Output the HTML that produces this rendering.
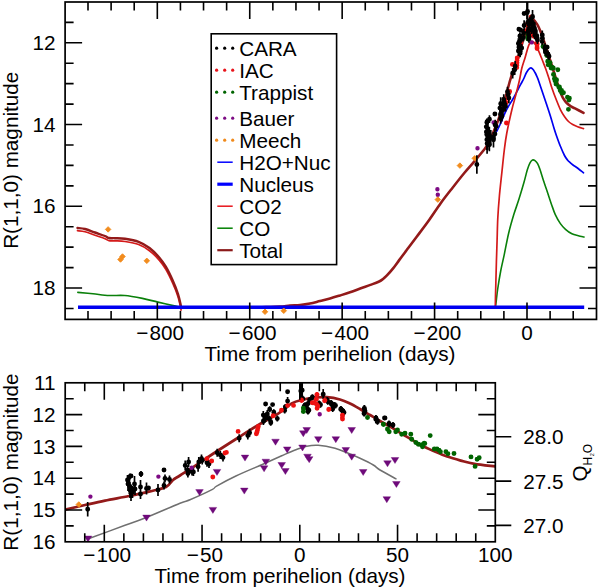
<!DOCTYPE html>
<html><head><meta charset="utf-8"><style>
html,body{margin:0;padding:0;background:#fff;width:600px;height:588px;overflow:hidden}
svg{display:block}
text{font-family:"Liberation Sans",sans-serif;font-size:20.7px;fill:#000}
</style></head><body>
<svg width="600" height="588" viewBox="0 0 600 588">
<defs><clipPath id="c1"><rect x="65.1" y="2" width="531.4" height="317.4"/></clipPath><clipPath id="c2"><rect x="65.2" y="382.8" width="430.1" height="159"/></clipPath></defs>
<g clip-path="url(#c1)"><path d="M77.80 292.40C80.33 292.63 87.77 293.28 93.00 293.80C98.23 294.32 103.92 295.22 109.20 295.50C114.48 295.78 119.17 295.02 124.70 295.50C130.23 295.98 136.87 297.30 142.40 298.40C147.93 299.50 152.38 300.82 157.90 302.10C163.42 303.38 171.65 305.20 175.50 306.10C179.35 307.00 180.08 307.27 181.00 307.50" fill="none" stroke="#0a800a" stroke-width="1.6" stroke-linejoin="round" stroke-linecap="round" /><path d="M495.30 307.50C495.42 306.75 495.60 306.08 496.00 303.00C496.40 299.92 496.92 294.33 497.70 289.00C498.48 283.67 499.60 276.78 500.70 271.00C501.80 265.22 502.97 260.63 504.30 254.30C505.63 247.97 507.12 239.62 508.70 233.00C510.28 226.38 512.10 220.22 513.80 214.60C515.50 208.98 517.20 204.68 518.90 199.30C520.60 193.92 522.58 187.27 524.00 182.30C525.42 177.33 526.40 172.75 527.40 169.50C528.40 166.25 529.15 164.38 530.00 162.80C530.85 161.22 531.67 160.37 532.50 160.00C533.33 159.63 534.15 160.00 535.00 160.60C535.85 161.20 536.77 162.12 537.60 163.60C538.43 165.08 538.97 166.52 540.00 169.50C541.03 172.48 542.52 177.58 543.80 181.50C545.08 185.42 546.42 189.18 547.70 193.00C548.98 196.82 550.23 200.80 551.50 204.40C552.77 208.00 553.82 211.40 555.30 214.60C556.78 217.80 558.70 221.15 560.40 223.60C562.10 226.05 563.58 227.60 565.50 229.30C567.42 231.00 569.77 232.73 571.90 233.80C574.03 234.87 576.28 235.17 578.30 235.70C580.32 236.23 583.05 236.78 584.00 237.00" fill="none" stroke="#0a800a" stroke-width="1.6" stroke-linejoin="round" stroke-linecap="round" /><path d="M488.00 144.00C488.67 142.92 490.53 139.67 492.00 137.50C493.47 135.33 495.30 133.50 496.80 131.00C498.30 128.50 499.45 125.92 501.00 122.50C502.55 119.08 504.07 114.50 506.10 110.50C508.13 106.50 511.10 102.25 513.20 98.50C515.30 94.75 517.23 90.75 518.70 88.00C520.17 85.25 521.07 83.75 522.00 82.00C522.93 80.25 523.55 79.08 524.30 77.50C525.05 75.92 525.57 74.05 526.50 72.50C527.43 70.95 528.90 68.82 529.90 68.20C530.90 67.58 531.65 68.08 532.50 68.80C533.35 69.52 534.23 71.13 535.00 72.50C535.77 73.87 536.52 75.67 537.10 77.00C537.68 78.33 537.72 78.30 538.50 80.50C539.28 82.70 540.53 86.45 541.80 90.20C543.07 93.95 544.68 98.75 546.10 103.00C547.52 107.25 548.97 111.45 550.30 115.70C551.63 119.95 553.10 125.25 554.10 128.50C555.10 131.75 555.25 132.23 556.30 135.20C557.35 138.17 559.03 142.92 560.40 146.30C561.77 149.68 563.32 153.22 564.50 155.50C565.68 157.78 566.60 158.85 567.50 160.00C568.40 161.15 568.98 161.57 569.90 162.40C570.82 163.23 571.87 164.15 573.00 165.00C574.13 165.85 574.95 166.20 576.70 167.50C578.45 168.80 582.37 171.92 583.50 172.80" fill="none" stroke="#0000f0" stroke-width="1.7" stroke-linejoin="round" stroke-linecap="round" /><path d="M77.50 230.70C78.75 230.87 82.08 230.95 85.00 231.70C87.92 232.45 91.67 234.03 95.00 235.20C98.33 236.37 102.67 237.78 105.00 238.70C107.33 239.62 107.33 240.33 109.00 240.70C110.67 241.07 112.33 240.77 115.00 240.90C117.67 241.03 121.07 240.90 125.00 241.50C128.93 242.10 134.52 242.97 138.60 244.50C142.68 246.03 146.10 248.13 149.50 250.70C152.90 253.27 156.28 256.78 159.00 259.90C161.72 263.02 163.53 265.55 165.80 269.40C168.07 273.25 170.57 278.45 172.60 283.00C174.63 287.55 176.63 292.50 178.00 296.70C179.37 300.90 180.30 305.95 180.80 308.20C181.30 310.45 180.97 309.87 181.00 310.20" fill="none" stroke="#d41a1a" stroke-width="1.7" stroke-linejoin="round" stroke-linecap="round" /><path d="M495.30 307.50C495.33 305.58 495.42 299.75 495.50 296.00C495.58 292.25 495.65 290.67 495.80 285.00C495.95 279.33 496.18 269.50 496.40 262.00C496.62 254.50 496.87 247.33 497.10 240.00C497.33 232.67 497.42 225.33 497.80 218.00C498.18 210.67 498.72 203.65 499.40 196.00C500.08 188.35 501.08 179.77 501.90 172.10C502.72 164.43 503.48 156.52 504.30 150.00C505.12 143.48 505.55 139.67 506.80 133.00C508.05 126.33 510.27 116.45 511.80 110.00C513.33 103.55 514.72 99.30 516.00 94.30C517.28 89.30 518.53 84.33 519.50 80.00C520.47 75.67 520.85 72.10 521.80 68.30C522.75 64.50 524.20 60.60 525.20 57.20C526.20 53.80 527.08 50.17 527.80 47.90C528.52 45.63 528.87 44.70 529.50 43.60C530.13 42.50 530.93 41.57 531.60 41.30C532.27 41.03 532.87 41.47 533.50 42.00C534.13 42.53 534.52 42.95 535.40 44.50C536.28 46.05 537.67 48.75 538.80 51.30C539.93 53.85 541.07 56.93 542.20 59.80C543.33 62.67 544.47 65.38 545.60 68.50C546.73 71.62 547.93 75.22 549.00 78.50C550.07 81.78 550.78 84.65 552.00 88.20C553.22 91.75 554.88 96.20 556.30 99.80C557.72 103.40 559.08 106.93 560.50 109.80C561.92 112.67 563.47 115.05 564.80 117.00C566.13 118.95 567.18 120.25 568.50 121.50C569.82 122.75 571.18 123.63 572.70 124.50C574.22 125.37 575.80 126.02 577.60 126.70C579.40 127.38 582.52 128.28 583.50 128.60" fill="none" stroke="#d41a1a" stroke-width="1.7" stroke-linejoin="round" stroke-linecap="round" /><path d="M77.50 228.00C78.75 228.17 82.08 228.25 85.00 229.00C87.92 229.75 91.67 231.33 95.00 232.50C98.33 233.67 102.67 235.08 105.00 236.00C107.33 236.92 107.33 237.63 109.00 238.00C110.67 238.37 112.33 238.07 115.00 238.20C117.67 238.33 121.07 238.20 125.00 238.80C128.93 239.40 134.52 240.27 138.60 241.80C142.68 243.33 146.10 245.43 149.50 248.00C152.90 250.57 156.28 254.08 159.00 257.20C161.72 260.32 163.53 262.85 165.80 266.70C168.07 270.55 170.57 275.75 172.60 280.30C174.63 284.85 176.63 289.80 178.00 294.00C179.37 298.20 180.30 303.25 180.80 305.50C181.30 307.75 180.97 307.17 181.00 307.50" fill="none" stroke="#931a1a" stroke-width="2.4" stroke-linejoin="round" stroke-linecap="round" /><path d="M262.00 307.30C265.00 307.18 275.33 306.90 280.00 306.60C284.67 306.30 286.67 305.77 290.00 305.50C293.33 305.23 296.67 305.33 300.00 305.00C303.33 304.67 306.67 304.17 310.00 303.50C313.33 302.83 316.67 301.83 320.00 301.00C323.33 300.17 326.67 299.42 330.00 298.50C333.33 297.58 336.67 296.53 340.00 295.50C343.33 294.47 346.63 293.47 350.00 292.30C353.37 291.13 356.80 289.73 360.20 288.50C363.60 287.27 367.33 286.02 370.40 284.90C373.47 283.78 376.55 282.73 378.60 281.80C380.65 280.87 381.35 280.32 382.70 279.30C384.05 278.28 385.00 277.48 386.70 275.70C388.40 273.92 390.85 271.15 392.90 268.60C394.95 266.05 396.97 263.13 399.00 260.40C401.03 257.67 403.50 254.35 405.10 252.20C406.70 250.05 406.63 250.12 408.60 247.50C410.57 244.88 413.53 241.00 416.90 236.50C420.27 232.00 424.83 226.05 428.80 220.50C432.77 214.95 436.73 208.67 440.70 203.20C444.67 197.73 448.67 192.73 452.60 187.70C456.53 182.67 460.78 177.25 464.30 173.00C467.82 168.75 470.58 165.87 473.70 162.20C476.82 158.53 480.67 153.95 483.00 151.00C485.33 148.05 486.03 147.50 487.70 144.50C489.37 141.50 491.17 137.30 493.00 133.00C494.83 128.70 496.77 124.13 498.70 118.70C500.63 113.27 502.68 106.85 504.60 100.40C506.52 93.95 508.60 85.40 510.20 80.00C511.80 74.60 512.90 71.67 514.20 68.00C515.50 64.33 516.70 62.00 518.00 58.00C519.30 54.00 520.67 48.50 522.00 44.00C523.33 39.50 524.75 34.67 526.00 31.00C527.25 27.33 528.50 24.08 529.50 22.00C530.50 19.92 531.05 18.58 532.00 18.50C532.95 18.42 534.10 20.08 535.20 21.50C536.30 22.92 537.47 24.67 538.60 27.00C539.73 29.33 540.60 31.58 542.00 35.50C543.40 39.42 545.33 45.42 547.00 50.50C548.67 55.58 550.33 60.75 552.00 66.00C553.67 71.25 555.45 77.25 557.00 82.00C558.55 86.75 560.05 91.45 561.30 94.50C562.55 97.55 563.47 98.75 564.50 100.30C565.53 101.85 566.37 102.75 567.50 103.80C568.63 104.85 570.05 105.83 571.30 106.60C572.55 107.37 572.97 107.35 575.00 108.40C577.03 109.45 582.08 112.15 583.50 112.90" fill="none" stroke="#931a1a" stroke-width="2.6" stroke-linejoin="round" stroke-linecap="round" /><line x1="78" y1="307.3" x2="584.2" y2="307.3" stroke="#0000f0" stroke-width="3.4"/><path d="M524.93 24.04a2.45 2.45 0 1 0 4.9 0a2.45 2.45 0 1 0 -4.9 0M528.64 17.10a2.45 2.45 0 1 0 4.9 0a2.45 2.45 0 1 0 -4.9 0M528.47 23.14a2.45 2.45 0 1 0 4.9 0a2.45 2.45 0 1 0 -4.9 0M528.00 27.51a2.45 2.45 0 1 0 4.9 0a2.45 2.45 0 1 0 -4.9 0M528.47 29.31a2.45 2.45 0 1 0 4.9 0a2.45 2.45 0 1 0 -4.9 0M528.80 31.88a2.45 2.45 0 1 0 4.9 0a2.45 2.45 0 1 0 -4.9 0M528.64 34.57a2.45 2.45 0 1 0 4.9 0a2.45 2.45 0 1 0 -4.9 0M527.50 27.51a2.45 2.45 0 1 0 4.9 0a2.45 2.45 0 1 0 -4.9 0M530.41 24.94a2.45 2.45 0 1 0 4.9 0a2.45 2.45 0 1 0 -4.9 0M531.38 36.25a2.45 2.45 0 1 0 4.9 0a2.45 2.45 0 1 0 -4.9 0M534.64 44.60a2.45 2.45 0 1 0 4.9 0a2.45 2.45 0 1 0 -4.9 0M534.64 48.45a2.45 2.45 0 1 0 4.9 0a2.45 2.45 0 1 0 -4.9 0M503.99 123.00a2.45 2.45 0 1 0 4.9 0a2.45 2.45 0 1 0 -4.9 0M502.62 99.35a2.45 2.45 0 1 0 4.9 0a2.45 2.45 0 1 0 -4.9 0M503.73 102.43a2.45 2.45 0 1 0 4.9 0a2.45 2.45 0 1 0 -4.9 0M506.87 92.15a2.45 2.45 0 1 0 4.9 0a2.45 2.45 0 1 0 -4.9 0M507.20 91.38a2.45 2.45 0 1 0 4.9 0a2.45 2.45 0 1 0 -4.9 0M509.97 64.39a2.45 2.45 0 1 0 4.9 0a2.45 2.45 0 1 0 -4.9 0M514.74 57.97a2.45 2.45 0 1 0 4.9 0a2.45 2.45 0 1 0 -4.9 0M514.62 60.41a2.45 2.45 0 1 0 4.9 0a2.45 2.45 0 1 0 -4.9 0M514.55 62.72a2.45 2.45 0 1 0 4.9 0a2.45 2.45 0 1 0 -4.9 0M514.43 65.16a2.45 2.45 0 1 0 4.9 0a2.45 2.45 0 1 0 -4.9 0M514.29 67.48a2.45 2.45 0 1 0 4.9 0a2.45 2.45 0 1 0 -4.9 0M518.26 44.21a2.45 2.45 0 1 0 4.9 0a2.45 2.45 0 1 0 -4.9 0M520.22 37.15a2.45 2.45 0 1 0 4.9 0a2.45 2.45 0 1 0 -4.9 0M521.67 31.23a2.45 2.45 0 1 0 4.9 0a2.45 2.45 0 1 0 -4.9 0M523.06 30.98a2.45 2.45 0 1 0 4.9 0a2.45 2.45 0 1 0 -4.9 0M524.98 24.68a2.45 2.45 0 1 0 4.9 0a2.45 2.45 0 1 0 -4.9 0M528.57 17.22a2.45 2.45 0 1 0 4.9 0a2.45 2.45 0 1 0 -4.9 0M528.43 23.14a2.45 2.45 0 1 0 4.9 0a2.45 2.45 0 1 0 -4.9 0M527.86 27.63a2.45 2.45 0 1 0 4.9 0a2.45 2.45 0 1 0 -4.9 0M528.69 30.72a2.45 2.45 0 1 0 4.9 0a2.45 2.45 0 1 0 -4.9 0M528.69 33.67a2.45 2.45 0 1 0 4.9 0a2.45 2.45 0 1 0 -4.9 0M530.48 24.68a2.45 2.45 0 1 0 4.9 0a2.45 2.45 0 1 0 -4.9 0M531.45 35.99a2.45 2.45 0 1 0 4.9 0a2.45 2.45 0 1 0 -4.9 0M534.62 43.44a2.45 2.45 0 1 0 4.9 0a2.45 2.45 0 1 0 -4.9 0M534.62 47.17a2.45 2.45 0 1 0 4.9 0a2.45 2.45 0 1 0 -4.9 0" fill="#ee1111"/><path d="M525.42 36.25a2.45 2.45 0 1 0 4.9 0a2.45 2.45 0 1 0 -4.9 0M525.42 38.94a2.45 2.45 0 1 0 4.9 0a2.45 2.45 0 1 0 -4.9 0M544.33 55.52a2.45 2.45 0 1 0 4.9 0a2.45 2.45 0 1 0 -4.9 0M545.28 61.31a2.45 2.45 0 1 0 4.9 0a2.45 2.45 0 1 0 -4.9 0M525.38 34.45a2.45 2.45 0 1 0 4.9 0a2.45 2.45 0 1 0 -4.9 0M525.38 38.94a2.45 2.45 0 1 0 4.9 0a2.45 2.45 0 1 0 -4.9 0M540.55 46.53a2.45 2.45 0 1 0 4.9 0a2.45 2.45 0 1 0 -4.9 0M544.29 55.14a2.45 2.45 0 1 0 4.9 0a2.45 2.45 0 1 0 -4.9 0M545.28 61.56a2.45 2.45 0 1 0 4.9 0a2.45 2.45 0 1 0 -4.9 0M545.68 64.78a2.45 2.45 0 1 0 4.9 0a2.45 2.45 0 1 0 -4.9 0M547.24 64.78a2.45 2.45 0 1 0 4.9 0a2.45 2.45 0 1 0 -4.9 0M547.64 62.59a2.45 2.45 0 1 0 4.9 0a2.45 2.45 0 1 0 -4.9 0M548.64 67.99a2.45 2.45 0 1 0 4.9 0a2.45 2.45 0 1 0 -4.9 0M549.42 66.83a2.45 2.45 0 1 0 4.9 0a2.45 2.45 0 1 0 -4.9 0M550.79 67.99a2.45 2.45 0 1 0 4.9 0a2.45 2.45 0 1 0 -4.9 0M551.00 74.42a2.45 2.45 0 1 0 4.9 0a2.45 2.45 0 1 0 -4.9 0M551.97 78.66a2.45 2.45 0 1 0 4.9 0a2.45 2.45 0 1 0 -4.9 0M552.56 80.84a2.45 2.45 0 1 0 4.9 0a2.45 2.45 0 1 0 -4.9 0M553.36 81.87a2.45 2.45 0 1 0 4.9 0a2.45 2.45 0 1 0 -4.9 0M553.95 79.69a2.45 2.45 0 1 0 4.9 0a2.45 2.45 0 1 0 -4.9 0M553.55 84.06a2.45 2.45 0 1 0 4.9 0a2.45 2.45 0 1 0 -4.9 0M553.29 81.74a2.45 2.45 0 1 0 4.9 0a2.45 2.45 0 1 0 -4.9 0M554.10 79.94a2.45 2.45 0 1 0 4.9 0a2.45 2.45 0 1 0 -4.9 0M555.37 69.79a2.45 2.45 0 1 0 4.9 0a2.45 2.45 0 1 0 -4.9 0M556.34 87.01a2.45 2.45 0 1 0 4.9 0a2.45 2.45 0 1 0 -4.9 0M556.98 87.01a2.45 2.45 0 1 0 4.9 0a2.45 2.45 0 1 0 -4.9 0M557.45 88.68a2.45 2.45 0 1 0 4.9 0a2.45 2.45 0 1 0 -4.9 0M557.78 90.48a2.45 2.45 0 1 0 4.9 0a2.45 2.45 0 1 0 -4.9 0M559.08 90.48a2.45 2.45 0 1 0 4.9 0a2.45 2.45 0 1 0 -4.9 0M559.56 93.05a2.45 2.45 0 1 0 4.9 0a2.45 2.45 0 1 0 -4.9 0M561.00 92.80a2.45 2.45 0 1 0 4.9 0a2.45 2.45 0 1 0 -4.9 0M565.02 97.16a2.45 2.45 0 1 0 4.9 0a2.45 2.45 0 1 0 -4.9 0M566.46 100.12a2.45 2.45 0 1 0 4.9 0a2.45 2.45 0 1 0 -4.9 0M566.95 98.32a2.45 2.45 0 1 0 4.9 0a2.45 2.45 0 1 0 -4.9 0M565.99 109.37a2.45 2.45 0 1 0 4.9 0a2.45 2.45 0 1 0 -4.9 0" fill="#006400"/><path d="M475.30 148.19a2.2 2.2 0 1 0 4.4 0a2.2 2.2 0 1 0 -4.4 0M491.38 122.48a2.2 2.2 0 1 0 4.4 0a2.2 2.2 0 1 0 -4.4 0M529.50 42.41a2.2 2.2 0 1 0 4.4 0a2.2 2.2 0 1 0 -4.4 0M499.25 111.17a2.2 2.2 0 1 0 4.4 0a2.2 2.2 0 1 0 -4.4 0M435.20 189.20a2.2 2.2 0 1 0 4.4 0a2.2 2.2 0 1 0 -4.4 0M435.60 194.80a2.2 2.2 0 1 0 4.4 0a2.2 2.2 0 1 0 -4.4 0" fill="#7d0a84"/><path d="M474.76 155.59L477.51 158.34L474.76 161.09L472.01 158.34ZM108.10 226.65L110.85 229.40L108.10 232.15L105.35 229.40ZM120.50 256.75L123.25 259.50L120.50 262.25L117.75 259.50ZM122.50 253.75L125.25 256.50L122.50 259.25L119.75 256.50ZM146.80 258.05L149.55 260.80L146.80 263.55L144.05 260.80ZM265.00 309.00L267.75 311.75L265.00 314.50L262.25 311.75ZM283.75 308.00L286.50 310.75L283.75 313.50L281.00 310.75ZM437.80 196.85L440.55 199.60L437.80 202.35L435.05 199.60ZM459.90 162.85L462.65 165.60L459.90 168.35L457.15 165.60Z" fill="#f28c1e" stroke="#f28c1e" stroke-width="0.9" stroke-linejoin="round"/><path d="M527.24 0.90V24.04M529.95 16.71V24.42M529.32 20.18V27.89M528.99 24.55V32.26M528.51 27.12V34.83M528.04 28.02V35.73M528.91 35.09V42.80M529.15 33.29V41.00M531.56 24.55V32.26M531.89 26.35V34.06M532.53 12.60V21.59M533.50 20.18V27.89M534.47 24.55V32.26M534.94 28.02V35.73M534.78 31.62V39.33M534.37 24.04V31.75M535.08 26.61V34.32M535.44 27.25V34.96M536.74 31.75V39.46M537.21 34.32V42.03M537.45 36.25V43.96M542.29 30.46V39.46M542.41 34.32V42.03M542.17 37.53V45.24M545.01 43.31V51.03M545.37 47.17V54.88M548.08 50.38V58.09M476.87 155.26V173.76M486.27 120.43V133.28M486.86 118.50V126.21M486.39 123.00V140.99M486.75 124.28V144.85M486.86 129.42V149.99M487.10 133.28V153.84M487.46 134.56V149.99M487.93 121.71V142.28M488.05 130.71V146.13M489.46 115.29V123.00M489.35 126.85V144.85M489.35 138.42V151.27M490.76 130.07V145.49M493.48 131.99V147.42M495.14 119.78V130.07M496.20 121.07V131.35M494.90 128.78V139.06M499.91 101.66V114.52M500.72 97.29V110.15M500.48 107.83V120.68M500.55 113.49V123.77M501.52 110.79V121.07M501.85 111.30V121.58M503.13 97.29V110.15M502.96 103.46V116.31M503.76 94.21V104.49M503.93 96.78V107.06M505.07 99.48V109.76M505.54 101.15V111.43M507.48 86.63V96.91M508.21 89.45V99.74M508.85 92.92V103.21M512.68 68.12V78.40M514.71 64.65V74.93M515.13 61.05V71.33M518.40 45.76V56.04M520.12 46.91V57.19M519.89 32.13V39.84M518.37 38.30V48.58M519.32 36.76V47.04M518.92 42.03V52.31M518.49 47.04V54.75M519.74 44.09V51.80M520.15 49.35V57.07M520.85 35.86V43.57M521.68 44.09V51.80M524.12 20.31V30.59M523.57 29.05V36.76M523.43 33.55V41.26M527.57 1.16V21.72M527.71 18.64V26.35M528.25 26.86V34.57M528.94 35.09V42.80M528.65 30.59V38.30M530.05 17.10V24.81M531.70 26.09V33.80M532.53 10.03V22.88M533.62 22.37V30.08M534.45 25.32V33.03M535.27 26.86V34.57M536.67 32.13V39.84M537.21 35.09V42.80M542.22 30.46V39.46M542.34 34.32V42.03M542.22 37.53V45.24M544.96 43.57V53.85M545.37 48.07V55.78M548.13 51.28V58.99M549.03 52.31V60.02" stroke="#000" stroke-width="1.7" fill="none"/><path d="M524.79 12.47a2.45 2.45 0 1 0 4.9 0a2.45 2.45 0 1 0 -4.9 0M527.50 20.57a2.45 2.45 0 1 0 4.9 0a2.45 2.45 0 1 0 -4.9 0M526.87 24.04a2.45 2.45 0 1 0 4.9 0a2.45 2.45 0 1 0 -4.9 0M526.54 28.41a2.45 2.45 0 1 0 4.9 0a2.45 2.45 0 1 0 -4.9 0M526.06 30.98a2.45 2.45 0 1 0 4.9 0a2.45 2.45 0 1 0 -4.9 0M525.59 31.88a2.45 2.45 0 1 0 4.9 0a2.45 2.45 0 1 0 -4.9 0M526.46 38.94a2.45 2.45 0 1 0 4.9 0a2.45 2.45 0 1 0 -4.9 0M526.70 37.15a2.45 2.45 0 1 0 4.9 0a2.45 2.45 0 1 0 -4.9 0M529.11 28.41a2.45 2.45 0 1 0 4.9 0a2.45 2.45 0 1 0 -4.9 0M529.44 30.20a2.45 2.45 0 1 0 4.9 0a2.45 2.45 0 1 0 -4.9 0M530.08 17.10a2.45 2.45 0 1 0 4.9 0a2.45 2.45 0 1 0 -4.9 0M531.05 24.04a2.45 2.45 0 1 0 4.9 0a2.45 2.45 0 1 0 -4.9 0M532.02 28.41a2.45 2.45 0 1 0 4.9 0a2.45 2.45 0 1 0 -4.9 0M532.49 31.88a2.45 2.45 0 1 0 4.9 0a2.45 2.45 0 1 0 -4.9 0M532.33 35.47a2.45 2.45 0 1 0 4.9 0a2.45 2.45 0 1 0 -4.9 0M531.92 27.89a2.45 2.45 0 1 0 4.9 0a2.45 2.45 0 1 0 -4.9 0M532.63 30.46a2.45 2.45 0 1 0 4.9 0a2.45 2.45 0 1 0 -4.9 0M532.99 31.10a2.45 2.45 0 1 0 4.9 0a2.45 2.45 0 1 0 -4.9 0M534.29 35.60a2.45 2.45 0 1 0 4.9 0a2.45 2.45 0 1 0 -4.9 0M534.76 38.17a2.45 2.45 0 1 0 4.9 0a2.45 2.45 0 1 0 -4.9 0M535.00 40.10a2.45 2.45 0 1 0 4.9 0a2.45 2.45 0 1 0 -4.9 0M539.84 34.96a2.45 2.45 0 1 0 4.9 0a2.45 2.45 0 1 0 -4.9 0M539.96 38.17a2.45 2.45 0 1 0 4.9 0a2.45 2.45 0 1 0 -4.9 0M539.72 41.39a2.45 2.45 0 1 0 4.9 0a2.45 2.45 0 1 0 -4.9 0M542.56 47.17a2.45 2.45 0 1 0 4.9 0a2.45 2.45 0 1 0 -4.9 0M542.92 51.03a2.45 2.45 0 1 0 4.9 0a2.45 2.45 0 1 0 -4.9 0M544.57 47.17a2.45 2.45 0 1 0 4.9 0a2.45 2.45 0 1 0 -4.9 0M545.63 54.24a2.45 2.45 0 1 0 4.9 0a2.45 2.45 0 1 0 -4.9 0M474.42 164.51a2.45 2.45 0 1 0 4.9 0a2.45 2.45 0 1 0 -4.9 0M483.82 126.85a2.45 2.45 0 1 0 4.9 0a2.45 2.45 0 1 0 -4.9 0M484.41 122.36a2.45 2.45 0 1 0 4.9 0a2.45 2.45 0 1 0 -4.9 0M484.65 121.71a2.45 2.45 0 1 0 4.9 0a2.45 2.45 0 1 0 -4.9 0M483.94 131.99a2.45 2.45 0 1 0 4.9 0a2.45 2.45 0 1 0 -4.9 0M484.30 134.56a2.45 2.45 0 1 0 4.9 0a2.45 2.45 0 1 0 -4.9 0M484.41 139.71a2.45 2.45 0 1 0 4.9 0a2.45 2.45 0 1 0 -4.9 0M484.65 143.56a2.45 2.45 0 1 0 4.9 0a2.45 2.45 0 1 0 -4.9 0M485.01 142.28a2.45 2.45 0 1 0 4.9 0a2.45 2.45 0 1 0 -4.9 0M485.48 131.99a2.45 2.45 0 1 0 4.9 0a2.45 2.45 0 1 0 -4.9 0M485.60 138.42a2.45 2.45 0 1 0 4.9 0a2.45 2.45 0 1 0 -4.9 0M487.01 119.14a2.45 2.45 0 1 0 4.9 0a2.45 2.45 0 1 0 -4.9 0M486.90 135.85a2.45 2.45 0 1 0 4.9 0a2.45 2.45 0 1 0 -4.9 0M486.90 144.85a2.45 2.45 0 1 0 4.9 0a2.45 2.45 0 1 0 -4.9 0M488.31 137.78a2.45 2.45 0 1 0 4.9 0a2.45 2.45 0 1 0 -4.9 0M488.79 137.14a2.45 2.45 0 1 0 4.9 0a2.45 2.45 0 1 0 -4.9 0M491.03 139.71a2.45 2.45 0 1 0 4.9 0a2.45 2.45 0 1 0 -4.9 0M492.45 114.00a2.45 2.45 0 1 0 4.9 0a2.45 2.45 0 1 0 -4.9 0M492.69 124.93a2.45 2.45 0 1 0 4.9 0a2.45 2.45 0 1 0 -4.9 0M493.75 126.21a2.45 2.45 0 1 0 4.9 0a2.45 2.45 0 1 0 -4.9 0M492.45 133.92a2.45 2.45 0 1 0 4.9 0a2.45 2.45 0 1 0 -4.9 0M497.46 108.09a2.45 2.45 0 1 0 4.9 0a2.45 2.45 0 1 0 -4.9 0M498.27 103.72a2.45 2.45 0 1 0 4.9 0a2.45 2.45 0 1 0 -4.9 0M498.03 114.26a2.45 2.45 0 1 0 4.9 0a2.45 2.45 0 1 0 -4.9 0M498.10 118.63a2.45 2.45 0 1 0 4.9 0a2.45 2.45 0 1 0 -4.9 0M499.07 115.93a2.45 2.45 0 1 0 4.9 0a2.45 2.45 0 1 0 -4.9 0M499.40 116.44a2.45 2.45 0 1 0 4.9 0a2.45 2.45 0 1 0 -4.9 0M500.68 103.72a2.45 2.45 0 1 0 4.9 0a2.45 2.45 0 1 0 -4.9 0M500.51 109.89a2.45 2.45 0 1 0 4.9 0a2.45 2.45 0 1 0 -4.9 0M501.31 99.35a2.45 2.45 0 1 0 4.9 0a2.45 2.45 0 1 0 -4.9 0M501.48 101.92a2.45 2.45 0 1 0 4.9 0a2.45 2.45 0 1 0 -4.9 0M502.62 104.62a2.45 2.45 0 1 0 4.9 0a2.45 2.45 0 1 0 -4.9 0M503.09 106.29a2.45 2.45 0 1 0 4.9 0a2.45 2.45 0 1 0 -4.9 0M505.03 91.77a2.45 2.45 0 1 0 4.9 0a2.45 2.45 0 1 0 -4.9 0M505.76 94.59a2.45 2.45 0 1 0 4.9 0a2.45 2.45 0 1 0 -4.9 0M506.40 98.06a2.45 2.45 0 1 0 4.9 0a2.45 2.45 0 1 0 -4.9 0M510.23 73.26a2.45 2.45 0 1 0 4.9 0a2.45 2.45 0 1 0 -4.9 0M512.26 69.79a2.45 2.45 0 1 0 4.9 0a2.45 2.45 0 1 0 -4.9 0M512.68 66.19a2.45 2.45 0 1 0 4.9 0a2.45 2.45 0 1 0 -4.9 0M515.95 50.90a2.45 2.45 0 1 0 4.9 0a2.45 2.45 0 1 0 -4.9 0M517.67 52.05a2.45 2.45 0 1 0 4.9 0a2.45 2.45 0 1 0 -4.9 0M516.47 29.18a2.45 2.45 0 1 0 4.9 0a2.45 2.45 0 1 0 -4.9 0M518.12 29.95a2.45 2.45 0 1 0 4.9 0a2.45 2.45 0 1 0 -4.9 0M517.44 35.99a2.45 2.45 0 1 0 4.9 0a2.45 2.45 0 1 0 -4.9 0M515.92 43.44a2.45 2.45 0 1 0 4.9 0a2.45 2.45 0 1 0 -4.9 0M516.87 41.90a2.45 2.45 0 1 0 4.9 0a2.45 2.45 0 1 0 -4.9 0M516.47 47.17a2.45 2.45 0 1 0 4.9 0a2.45 2.45 0 1 0 -4.9 0M516.04 50.90a2.45 2.45 0 1 0 4.9 0a2.45 2.45 0 1 0 -4.9 0M517.29 47.94a2.45 2.45 0 1 0 4.9 0a2.45 2.45 0 1 0 -4.9 0M517.70 53.21a2.45 2.45 0 1 0 4.9 0a2.45 2.45 0 1 0 -4.9 0M518.40 39.72a2.45 2.45 0 1 0 4.9 0a2.45 2.45 0 1 0 -4.9 0M519.23 47.94a2.45 2.45 0 1 0 4.9 0a2.45 2.45 0 1 0 -4.9 0M521.67 13.50a2.45 2.45 0 1 0 4.9 0a2.45 2.45 0 1 0 -4.9 0M521.67 25.45a2.45 2.45 0 1 0 4.9 0a2.45 2.45 0 1 0 -4.9 0M521.12 32.90a2.45 2.45 0 1 0 4.9 0a2.45 2.45 0 1 0 -4.9 0M520.98 37.40a2.45 2.45 0 1 0 4.9 0a2.45 2.45 0 1 0 -4.9 0M525.12 11.44a2.45 2.45 0 1 0 4.9 0a2.45 2.45 0 1 0 -4.9 0M525.26 22.49a2.45 2.45 0 1 0 4.9 0a2.45 2.45 0 1 0 -4.9 0M525.80 30.72a2.45 2.45 0 1 0 4.9 0a2.45 2.45 0 1 0 -4.9 0M526.49 38.94a2.45 2.45 0 1 0 4.9 0a2.45 2.45 0 1 0 -4.9 0M526.20 34.45a2.45 2.45 0 1 0 4.9 0a2.45 2.45 0 1 0 -4.9 0M527.60 20.95a2.45 2.45 0 1 0 4.9 0a2.45 2.45 0 1 0 -4.9 0M529.25 29.95a2.45 2.45 0 1 0 4.9 0a2.45 2.45 0 1 0 -4.9 0M530.08 16.45a2.45 2.45 0 1 0 4.9 0a2.45 2.45 0 1 0 -4.9 0M531.17 26.22a2.45 2.45 0 1 0 4.9 0a2.45 2.45 0 1 0 -4.9 0M532.00 29.18a2.45 2.45 0 1 0 4.9 0a2.45 2.45 0 1 0 -4.9 0M532.82 30.72a2.45 2.45 0 1 0 4.9 0a2.45 2.45 0 1 0 -4.9 0M534.22 35.99a2.45 2.45 0 1 0 4.9 0a2.45 2.45 0 1 0 -4.9 0M534.76 38.94a2.45 2.45 0 1 0 4.9 0a2.45 2.45 0 1 0 -4.9 0M539.77 34.96a2.45 2.45 0 1 0 4.9 0a2.45 2.45 0 1 0 -4.9 0M539.89 38.17a2.45 2.45 0 1 0 4.9 0a2.45 2.45 0 1 0 -4.9 0M539.77 41.39a2.45 2.45 0 1 0 4.9 0a2.45 2.45 0 1 0 -4.9 0M542.51 48.71a2.45 2.45 0 1 0 4.9 0a2.45 2.45 0 1 0 -4.9 0M542.92 51.93a2.45 2.45 0 1 0 4.9 0a2.45 2.45 0 1 0 -4.9 0M544.69 47.17a2.45 2.45 0 1 0 4.9 0a2.45 2.45 0 1 0 -4.9 0M545.68 55.14a2.45 2.45 0 1 0 4.9 0a2.45 2.45 0 1 0 -4.9 0M546.58 56.17a2.45 2.45 0 1 0 4.9 0a2.45 2.45 0 1 0 -4.9 0" fill="#000"/></g>
<g clip-path="url(#c2)"><path d="M90.40 538.00C96.17 535.88 115.90 528.63 125.00 525.30C134.10 521.97 135.83 521.68 145.00 518.00C154.17 514.32 172.50 506.23 180.00 503.20C187.50 500.17 184.67 502.05 190.00 499.80C195.33 497.55 207.57 491.98 212.00 489.70C216.43 487.42 212.62 488.38 216.60 486.10C220.58 483.82 228.10 479.68 235.90 476.00C243.70 472.32 255.77 467.37 263.40 464.00C271.03 460.63 276.72 458.00 281.70 455.80C286.68 453.60 289.13 452.38 293.30 450.80C297.47 449.22 302.53 447.22 306.70 446.30C310.87 445.38 313.58 444.97 318.30 445.30C323.02 445.63 330.00 446.97 335.00 448.30C340.00 449.63 344.13 451.63 348.30 453.30C352.47 454.97 355.83 456.35 360.00 458.30C364.17 460.25 369.97 463.05 373.30 465.00C376.63 466.95 376.22 467.70 380.00 470.00C383.78 472.30 393.33 477.33 396.00 478.80" fill="none" stroke="#707070" stroke-width="1.5" stroke-linejoin="round" stroke-linecap="round" /><path d="M65.00 509.60C68.33 508.83 78.33 506.50 85.00 505.00C91.67 503.50 97.67 502.10 105.00 500.60C112.33 499.10 121.67 497.50 129.00 496.00C136.33 494.50 142.83 493.10 149.00 491.60C155.17 490.10 162.00 488.93 166.00 487.00C170.00 485.07 170.67 481.92 173.00 480.00C175.33 478.08 176.27 477.90 180.00 475.50C183.73 473.10 189.57 469.43 195.40 465.60C201.23 461.77 207.57 457.35 215.00 452.50C222.43 447.65 232.50 441.25 240.00 436.50C247.50 431.75 253.33 428.03 260.00 424.00C266.67 419.97 274.72 415.73 280.00 412.30C285.28 408.87 287.82 405.52 291.70 403.40C295.58 401.28 299.42 400.58 303.30 399.60C307.18 398.62 311.10 397.90 315.00 397.50C318.90 397.10 322.53 396.87 326.70 397.20C330.87 397.53 336.12 398.45 340.00 399.50C343.88 400.55 346.67 401.92 350.00 403.50C353.33 405.08 356.67 407.08 360.00 409.00C363.33 410.92 366.67 413.00 370.00 415.00C373.33 417.00 376.67 419.08 380.00 421.00C383.33 422.92 385.55 423.88 390.00 426.50C394.45 429.12 401.15 433.40 406.70 436.70C412.25 440.00 418.82 443.92 423.30 446.30C427.78 448.68 429.62 449.28 433.60 451.00C437.58 452.72 442.67 455.00 447.20 456.60C451.73 458.20 456.27 459.40 460.80 460.60C465.33 461.80 468.73 462.85 474.40 463.80C480.07 464.75 491.40 465.88 494.80 466.30" fill="none" stroke="#931a1a" stroke-width="2.7" stroke-linejoin="round" stroke-linecap="round" /><path d="M300.80 382.00V400.00M312.30 394.30V400.30M309.60 397.00V403.00M308.20 400.40V406.40M306.20 402.40V408.40M304.20 403.10V409.10M307.90 408.60V414.60M308.90 407.20V413.20M319.10 400.40V406.40M320.50 401.80V407.80M323.20 391.10V398.10M327.30 397.00V403.00M331.40 400.40V406.40M333.40 403.10V409.10M332.70 405.90V411.90M331.00 400.00V406.00M334.00 402.00V408.00M335.50 402.50V408.50M341.00 406.00V412.00M343.00 408.00V414.00M344.00 409.50V415.50M364.50 405.00V412.00M365.00 408.00V414.00M364.00 410.50V416.50M376.00 415.00V421.00M377.50 418.00V424.00M389.00 420.50V426.50M87.70 502.10V516.50M127.50 475.00V485.00M130.00 473.50V479.50M128.00 477.00V491.00M129.50 478.00V494.00M130.00 482.00V498.00M131.00 485.00V501.00M132.50 486.00V498.00M134.50 476.00V492.00M135.00 483.00V495.00M141.00 471.00V477.00M140.50 480.00V494.00M140.50 489.00V499.00M146.50 482.50V494.50M158.00 484.00V496.00M165.00 474.50V482.50M169.50 475.50V483.50M164.00 481.50V489.50M185.20 460.40V470.40M188.60 457.00V467.00M187.60 465.20V475.20M187.90 469.60V477.60M192.00 467.50V475.50M193.40 467.90V475.90M198.80 457.00V467.00M198.10 461.80V471.80M201.50 454.60V462.60M202.20 456.60V464.60M207.00 458.70V466.70M209.00 460.00V468.00M217.20 448.70V456.70M220.30 450.90V458.90M223.00 453.60V461.60M239.20 434.30V442.30M247.80 431.60V439.60M249.60 428.80V436.80M263.40 416.90V424.90M270.70 417.80V425.80M269.70 406.30V412.30M263.30 411.10V419.10M267.30 409.90V417.90M265.60 414.00V422.00M263.80 417.90V423.90M269.10 415.60V421.60M270.80 419.70V425.70M273.80 409.20V415.20M277.30 415.60V421.60M287.60 397.10V405.10M285.30 403.90V409.90M284.70 407.40V413.40M302.20 382.20V398.20M302.80 395.80V401.80M305.10 402.20V408.20M308.00 408.60V414.60M306.80 405.10V411.10M312.70 394.60V400.60M319.70 401.60V407.60M323.20 389.10V399.10M327.80 398.70V404.70M331.30 401.00V407.00M334.80 402.20V408.20M340.70 406.30V412.30M343.00 408.60V414.60M364.20 405.00V412.00M364.70 408.00V414.00M364.20 410.50V416.50M375.80 415.20V423.20M377.50 418.70V424.70M389.20 421.20V427.20M393.00 422.00V428.00" stroke="#000" stroke-width="1.7" fill="none"/><path d="M298.35 391.00a2.45 2.45 0 1 0 4.9 0a2.45 2.45 0 1 0 -4.9 0M309.85 397.30a2.45 2.45 0 1 0 4.9 0a2.45 2.45 0 1 0 -4.9 0M307.15 400.00a2.45 2.45 0 1 0 4.9 0a2.45 2.45 0 1 0 -4.9 0M305.75 403.40a2.45 2.45 0 1 0 4.9 0a2.45 2.45 0 1 0 -4.9 0M303.75 405.40a2.45 2.45 0 1 0 4.9 0a2.45 2.45 0 1 0 -4.9 0M301.75 406.10a2.45 2.45 0 1 0 4.9 0a2.45 2.45 0 1 0 -4.9 0M305.45 411.60a2.45 2.45 0 1 0 4.9 0a2.45 2.45 0 1 0 -4.9 0M306.45 410.20a2.45 2.45 0 1 0 4.9 0a2.45 2.45 0 1 0 -4.9 0M316.65 403.40a2.45 2.45 0 1 0 4.9 0a2.45 2.45 0 1 0 -4.9 0M318.05 404.80a2.45 2.45 0 1 0 4.9 0a2.45 2.45 0 1 0 -4.9 0M320.75 394.60a2.45 2.45 0 1 0 4.9 0a2.45 2.45 0 1 0 -4.9 0M324.85 400.00a2.45 2.45 0 1 0 4.9 0a2.45 2.45 0 1 0 -4.9 0M328.95 403.40a2.45 2.45 0 1 0 4.9 0a2.45 2.45 0 1 0 -4.9 0M330.95 406.10a2.45 2.45 0 1 0 4.9 0a2.45 2.45 0 1 0 -4.9 0M330.25 408.90a2.45 2.45 0 1 0 4.9 0a2.45 2.45 0 1 0 -4.9 0M328.55 403.00a2.45 2.45 0 1 0 4.9 0a2.45 2.45 0 1 0 -4.9 0M331.55 405.00a2.45 2.45 0 1 0 4.9 0a2.45 2.45 0 1 0 -4.9 0M333.05 405.50a2.45 2.45 0 1 0 4.9 0a2.45 2.45 0 1 0 -4.9 0M338.55 409.00a2.45 2.45 0 1 0 4.9 0a2.45 2.45 0 1 0 -4.9 0M340.55 411.00a2.45 2.45 0 1 0 4.9 0a2.45 2.45 0 1 0 -4.9 0M341.55 412.50a2.45 2.45 0 1 0 4.9 0a2.45 2.45 0 1 0 -4.9 0M362.05 408.50a2.45 2.45 0 1 0 4.9 0a2.45 2.45 0 1 0 -4.9 0M362.55 411.00a2.45 2.45 0 1 0 4.9 0a2.45 2.45 0 1 0 -4.9 0M361.55 413.50a2.45 2.45 0 1 0 4.9 0a2.45 2.45 0 1 0 -4.9 0M373.55 418.00a2.45 2.45 0 1 0 4.9 0a2.45 2.45 0 1 0 -4.9 0M375.05 421.00a2.45 2.45 0 1 0 4.9 0a2.45 2.45 0 1 0 -4.9 0M382.05 418.00a2.45 2.45 0 1 0 4.9 0a2.45 2.45 0 1 0 -4.9 0M386.55 423.50a2.45 2.45 0 1 0 4.9 0a2.45 2.45 0 1 0 -4.9 0M85.25 509.30a2.45 2.45 0 1 0 4.9 0a2.45 2.45 0 1 0 -4.9 0M125.05 480.00a2.45 2.45 0 1 0 4.9 0a2.45 2.45 0 1 0 -4.9 0M127.55 476.50a2.45 2.45 0 1 0 4.9 0a2.45 2.45 0 1 0 -4.9 0M128.55 476.00a2.45 2.45 0 1 0 4.9 0a2.45 2.45 0 1 0 -4.9 0M125.55 484.00a2.45 2.45 0 1 0 4.9 0a2.45 2.45 0 1 0 -4.9 0M127.05 486.00a2.45 2.45 0 1 0 4.9 0a2.45 2.45 0 1 0 -4.9 0M127.55 490.00a2.45 2.45 0 1 0 4.9 0a2.45 2.45 0 1 0 -4.9 0M128.55 493.00a2.45 2.45 0 1 0 4.9 0a2.45 2.45 0 1 0 -4.9 0M130.05 492.00a2.45 2.45 0 1 0 4.9 0a2.45 2.45 0 1 0 -4.9 0M132.05 484.00a2.45 2.45 0 1 0 4.9 0a2.45 2.45 0 1 0 -4.9 0M132.55 489.00a2.45 2.45 0 1 0 4.9 0a2.45 2.45 0 1 0 -4.9 0M138.55 474.00a2.45 2.45 0 1 0 4.9 0a2.45 2.45 0 1 0 -4.9 0M138.05 487.00a2.45 2.45 0 1 0 4.9 0a2.45 2.45 0 1 0 -4.9 0M138.05 494.00a2.45 2.45 0 1 0 4.9 0a2.45 2.45 0 1 0 -4.9 0M144.05 488.50a2.45 2.45 0 1 0 4.9 0a2.45 2.45 0 1 0 -4.9 0M146.05 488.00a2.45 2.45 0 1 0 4.9 0a2.45 2.45 0 1 0 -4.9 0M155.55 490.00a2.45 2.45 0 1 0 4.9 0a2.45 2.45 0 1 0 -4.9 0M161.55 470.00a2.45 2.45 0 1 0 4.9 0a2.45 2.45 0 1 0 -4.9 0M162.55 478.50a2.45 2.45 0 1 0 4.9 0a2.45 2.45 0 1 0 -4.9 0M167.05 479.50a2.45 2.45 0 1 0 4.9 0a2.45 2.45 0 1 0 -4.9 0M161.55 485.50a2.45 2.45 0 1 0 4.9 0a2.45 2.45 0 1 0 -4.9 0M182.75 465.40a2.45 2.45 0 1 0 4.9 0a2.45 2.45 0 1 0 -4.9 0M186.15 462.00a2.45 2.45 0 1 0 4.9 0a2.45 2.45 0 1 0 -4.9 0M185.15 470.20a2.45 2.45 0 1 0 4.9 0a2.45 2.45 0 1 0 -4.9 0M185.45 473.60a2.45 2.45 0 1 0 4.9 0a2.45 2.45 0 1 0 -4.9 0M189.55 471.50a2.45 2.45 0 1 0 4.9 0a2.45 2.45 0 1 0 -4.9 0M190.95 471.90a2.45 2.45 0 1 0 4.9 0a2.45 2.45 0 1 0 -4.9 0M196.35 462.00a2.45 2.45 0 1 0 4.9 0a2.45 2.45 0 1 0 -4.9 0M195.65 466.80a2.45 2.45 0 1 0 4.9 0a2.45 2.45 0 1 0 -4.9 0M199.05 458.60a2.45 2.45 0 1 0 4.9 0a2.45 2.45 0 1 0 -4.9 0M199.75 460.60a2.45 2.45 0 1 0 4.9 0a2.45 2.45 0 1 0 -4.9 0M204.55 462.70a2.45 2.45 0 1 0 4.9 0a2.45 2.45 0 1 0 -4.9 0M206.55 464.00a2.45 2.45 0 1 0 4.9 0a2.45 2.45 0 1 0 -4.9 0M214.75 452.70a2.45 2.45 0 1 0 4.9 0a2.45 2.45 0 1 0 -4.9 0M217.85 454.90a2.45 2.45 0 1 0 4.9 0a2.45 2.45 0 1 0 -4.9 0M220.55 457.60a2.45 2.45 0 1 0 4.9 0a2.45 2.45 0 1 0 -4.9 0M236.75 438.30a2.45 2.45 0 1 0 4.9 0a2.45 2.45 0 1 0 -4.9 0M245.35 435.60a2.45 2.45 0 1 0 4.9 0a2.45 2.45 0 1 0 -4.9 0M247.15 432.80a2.45 2.45 0 1 0 4.9 0a2.45 2.45 0 1 0 -4.9 0M260.95 420.90a2.45 2.45 0 1 0 4.9 0a2.45 2.45 0 1 0 -4.9 0M268.25 421.80a2.45 2.45 0 1 0 4.9 0a2.45 2.45 0 1 0 -4.9 0M263.15 404.00a2.45 2.45 0 1 0 4.9 0a2.45 2.45 0 1 0 -4.9 0M270.15 404.60a2.45 2.45 0 1 0 4.9 0a2.45 2.45 0 1 0 -4.9 0M267.25 409.30a2.45 2.45 0 1 0 4.9 0a2.45 2.45 0 1 0 -4.9 0M260.85 415.10a2.45 2.45 0 1 0 4.9 0a2.45 2.45 0 1 0 -4.9 0M264.85 413.90a2.45 2.45 0 1 0 4.9 0a2.45 2.45 0 1 0 -4.9 0M263.15 418.00a2.45 2.45 0 1 0 4.9 0a2.45 2.45 0 1 0 -4.9 0M261.35 420.90a2.45 2.45 0 1 0 4.9 0a2.45 2.45 0 1 0 -4.9 0M266.65 418.60a2.45 2.45 0 1 0 4.9 0a2.45 2.45 0 1 0 -4.9 0M268.35 422.70a2.45 2.45 0 1 0 4.9 0a2.45 2.45 0 1 0 -4.9 0M271.35 412.20a2.45 2.45 0 1 0 4.9 0a2.45 2.45 0 1 0 -4.9 0M274.85 418.60a2.45 2.45 0 1 0 4.9 0a2.45 2.45 0 1 0 -4.9 0M285.15 391.80a2.45 2.45 0 1 0 4.9 0a2.45 2.45 0 1 0 -4.9 0M285.15 401.10a2.45 2.45 0 1 0 4.9 0a2.45 2.45 0 1 0 -4.9 0M282.85 406.90a2.45 2.45 0 1 0 4.9 0a2.45 2.45 0 1 0 -4.9 0M282.25 410.40a2.45 2.45 0 1 0 4.9 0a2.45 2.45 0 1 0 -4.9 0M299.75 390.20a2.45 2.45 0 1 0 4.9 0a2.45 2.45 0 1 0 -4.9 0M300.35 398.80a2.45 2.45 0 1 0 4.9 0a2.45 2.45 0 1 0 -4.9 0M302.65 405.20a2.45 2.45 0 1 0 4.9 0a2.45 2.45 0 1 0 -4.9 0M305.55 411.60a2.45 2.45 0 1 0 4.9 0a2.45 2.45 0 1 0 -4.9 0M304.35 408.10a2.45 2.45 0 1 0 4.9 0a2.45 2.45 0 1 0 -4.9 0M310.25 397.60a2.45 2.45 0 1 0 4.9 0a2.45 2.45 0 1 0 -4.9 0M317.25 404.60a2.45 2.45 0 1 0 4.9 0a2.45 2.45 0 1 0 -4.9 0M320.75 394.10a2.45 2.45 0 1 0 4.9 0a2.45 2.45 0 1 0 -4.9 0M325.35 401.70a2.45 2.45 0 1 0 4.9 0a2.45 2.45 0 1 0 -4.9 0M328.85 404.00a2.45 2.45 0 1 0 4.9 0a2.45 2.45 0 1 0 -4.9 0M332.35 405.20a2.45 2.45 0 1 0 4.9 0a2.45 2.45 0 1 0 -4.9 0M338.25 409.30a2.45 2.45 0 1 0 4.9 0a2.45 2.45 0 1 0 -4.9 0M340.55 411.60a2.45 2.45 0 1 0 4.9 0a2.45 2.45 0 1 0 -4.9 0M361.75 408.50a2.45 2.45 0 1 0 4.9 0a2.45 2.45 0 1 0 -4.9 0M362.25 411.00a2.45 2.45 0 1 0 4.9 0a2.45 2.45 0 1 0 -4.9 0M361.75 413.50a2.45 2.45 0 1 0 4.9 0a2.45 2.45 0 1 0 -4.9 0M373.35 419.20a2.45 2.45 0 1 0 4.9 0a2.45 2.45 0 1 0 -4.9 0M375.05 421.70a2.45 2.45 0 1 0 4.9 0a2.45 2.45 0 1 0 -4.9 0M382.55 418.00a2.45 2.45 0 1 0 4.9 0a2.45 2.45 0 1 0 -4.9 0M386.75 424.20a2.45 2.45 0 1 0 4.9 0a2.45 2.45 0 1 0 -4.9 0M390.55 425.00a2.45 2.45 0 1 0 4.9 0a2.45 2.45 0 1 0 -4.9 0" fill="#000"/><path d="M298.95 400.00a2.45 2.45 0 1 0 4.9 0a2.45 2.45 0 1 0 -4.9 0M314.65 394.60a2.45 2.45 0 1 0 4.9 0a2.45 2.45 0 1 0 -4.9 0M313.95 399.30a2.45 2.45 0 1 0 4.9 0a2.45 2.45 0 1 0 -4.9 0M311.95 402.70a2.45 2.45 0 1 0 4.9 0a2.45 2.45 0 1 0 -4.9 0M313.95 404.10a2.45 2.45 0 1 0 4.9 0a2.45 2.45 0 1 0 -4.9 0M315.35 406.10a2.45 2.45 0 1 0 4.9 0a2.45 2.45 0 1 0 -4.9 0M314.65 408.20a2.45 2.45 0 1 0 4.9 0a2.45 2.45 0 1 0 -4.9 0M309.85 402.70a2.45 2.45 0 1 0 4.9 0a2.45 2.45 0 1 0 -4.9 0M322.15 400.70a2.45 2.45 0 1 0 4.9 0a2.45 2.45 0 1 0 -4.9 0M326.25 409.50a2.45 2.45 0 1 0 4.9 0a2.45 2.45 0 1 0 -4.9 0M340.05 416.00a2.45 2.45 0 1 0 4.9 0a2.45 2.45 0 1 0 -4.9 0M340.05 419.00a2.45 2.45 0 1 0 4.9 0a2.45 2.45 0 1 0 -4.9 0M210.35 477.00a2.45 2.45 0 1 0 4.9 0a2.45 2.45 0 1 0 -4.9 0M204.55 458.60a2.45 2.45 0 1 0 4.9 0a2.45 2.45 0 1 0 -4.9 0M209.25 461.00a2.45 2.45 0 1 0 4.9 0a2.45 2.45 0 1 0 -4.9 0M222.55 453.00a2.45 2.45 0 1 0 4.9 0a2.45 2.45 0 1 0 -4.9 0M223.95 452.40a2.45 2.45 0 1 0 4.9 0a2.45 2.45 0 1 0 -4.9 0M235.65 431.40a2.45 2.45 0 1 0 4.9 0a2.45 2.45 0 1 0 -4.9 0M255.85 426.40a2.45 2.45 0 1 0 4.9 0a2.45 2.45 0 1 0 -4.9 0M255.35 428.30a2.45 2.45 0 1 0 4.9 0a2.45 2.45 0 1 0 -4.9 0M255.05 430.10a2.45 2.45 0 1 0 4.9 0a2.45 2.45 0 1 0 -4.9 0M254.55 432.00a2.45 2.45 0 1 0 4.9 0a2.45 2.45 0 1 0 -4.9 0M253.95 433.80a2.45 2.45 0 1 0 4.9 0a2.45 2.45 0 1 0 -4.9 0M270.75 415.70a2.45 2.45 0 1 0 4.9 0a2.45 2.45 0 1 0 -4.9 0M279.05 410.20a2.45 2.45 0 1 0 4.9 0a2.45 2.45 0 1 0 -4.9 0M285.15 405.60a2.45 2.45 0 1 0 4.9 0a2.45 2.45 0 1 0 -4.9 0M291.05 405.40a2.45 2.45 0 1 0 4.9 0a2.45 2.45 0 1 0 -4.9 0M299.15 400.50a2.45 2.45 0 1 0 4.9 0a2.45 2.45 0 1 0 -4.9 0M314.35 394.70a2.45 2.45 0 1 0 4.9 0a2.45 2.45 0 1 0 -4.9 0M313.75 399.30a2.45 2.45 0 1 0 4.9 0a2.45 2.45 0 1 0 -4.9 0M311.35 402.80a2.45 2.45 0 1 0 4.9 0a2.45 2.45 0 1 0 -4.9 0M314.85 405.20a2.45 2.45 0 1 0 4.9 0a2.45 2.45 0 1 0 -4.9 0M314.85 407.50a2.45 2.45 0 1 0 4.9 0a2.45 2.45 0 1 0 -4.9 0M322.45 400.50a2.45 2.45 0 1 0 4.9 0a2.45 2.45 0 1 0 -4.9 0M326.55 409.30a2.45 2.45 0 1 0 4.9 0a2.45 2.45 0 1 0 -4.9 0M339.95 415.10a2.45 2.45 0 1 0 4.9 0a2.45 2.45 0 1 0 -4.9 0M339.95 418.00a2.45 2.45 0 1 0 4.9 0a2.45 2.45 0 1 0 -4.9 0" fill="#ee1111"/><path d="M301.05 409.50a2.45 2.45 0 1 0 4.9 0a2.45 2.45 0 1 0 -4.9 0M301.05 411.60a2.45 2.45 0 1 0 4.9 0a2.45 2.45 0 1 0 -4.9 0M381.05 424.50a2.45 2.45 0 1 0 4.9 0a2.45 2.45 0 1 0 -4.9 0M385.05 429.00a2.45 2.45 0 1 0 4.9 0a2.45 2.45 0 1 0 -4.9 0M300.85 408.10a2.45 2.45 0 1 0 4.9 0a2.45 2.45 0 1 0 -4.9 0M300.85 411.60a2.45 2.45 0 1 0 4.9 0a2.45 2.45 0 1 0 -4.9 0M365.05 417.50a2.45 2.45 0 1 0 4.9 0a2.45 2.45 0 1 0 -4.9 0M380.85 424.20a2.45 2.45 0 1 0 4.9 0a2.45 2.45 0 1 0 -4.9 0M385.05 429.20a2.45 2.45 0 1 0 4.9 0a2.45 2.45 0 1 0 -4.9 0M386.75 431.70a2.45 2.45 0 1 0 4.9 0a2.45 2.45 0 1 0 -4.9 0M393.35 431.70a2.45 2.45 0 1 0 4.9 0a2.45 2.45 0 1 0 -4.9 0M395.05 430.00a2.45 2.45 0 1 0 4.9 0a2.45 2.45 0 1 0 -4.9 0M399.25 434.20a2.45 2.45 0 1 0 4.9 0a2.45 2.45 0 1 0 -4.9 0M402.55 433.30a2.45 2.45 0 1 0 4.9 0a2.45 2.45 0 1 0 -4.9 0M408.35 434.20a2.45 2.45 0 1 0 4.9 0a2.45 2.45 0 1 0 -4.9 0M409.25 439.20a2.45 2.45 0 1 0 4.9 0a2.45 2.45 0 1 0 -4.9 0M413.35 442.50a2.45 2.45 0 1 0 4.9 0a2.45 2.45 0 1 0 -4.9 0M415.85 444.20a2.45 2.45 0 1 0 4.9 0a2.45 2.45 0 1 0 -4.9 0M419.25 445.00a2.45 2.45 0 1 0 4.9 0a2.45 2.45 0 1 0 -4.9 0M421.75 443.30a2.45 2.45 0 1 0 4.9 0a2.45 2.45 0 1 0 -4.9 0M420.05 446.70a2.45 2.45 0 1 0 4.9 0a2.45 2.45 0 1 0 -4.9 0M418.95 444.90a2.45 2.45 0 1 0 4.9 0a2.45 2.45 0 1 0 -4.9 0M422.35 443.50a2.45 2.45 0 1 0 4.9 0a2.45 2.45 0 1 0 -4.9 0M427.75 435.60a2.45 2.45 0 1 0 4.9 0a2.45 2.45 0 1 0 -4.9 0M431.85 449.00a2.45 2.45 0 1 0 4.9 0a2.45 2.45 0 1 0 -4.9 0M434.55 449.00a2.45 2.45 0 1 0 4.9 0a2.45 2.45 0 1 0 -4.9 0M436.55 450.30a2.45 2.45 0 1 0 4.9 0a2.45 2.45 0 1 0 -4.9 0M437.95 451.70a2.45 2.45 0 1 0 4.9 0a2.45 2.45 0 1 0 -4.9 0M443.45 451.70a2.45 2.45 0 1 0 4.9 0a2.45 2.45 0 1 0 -4.9 0M445.45 453.70a2.45 2.45 0 1 0 4.9 0a2.45 2.45 0 1 0 -4.9 0M451.55 453.50a2.45 2.45 0 1 0 4.9 0a2.45 2.45 0 1 0 -4.9 0M468.55 456.90a2.45 2.45 0 1 0 4.9 0a2.45 2.45 0 1 0 -4.9 0M474.65 459.20a2.45 2.45 0 1 0 4.9 0a2.45 2.45 0 1 0 -4.9 0M476.75 457.80a2.45 2.45 0 1 0 4.9 0a2.45 2.45 0 1 0 -4.9 0M472.65 466.40a2.45 2.45 0 1 0 4.9 0a2.45 2.45 0 1 0 -4.9 0" fill="#006400"/><path d="M88.20 496.60a2.2 2.2 0 1 0 4.4 0a2.2 2.2 0 1 0 -4.4 0M156.20 476.60a2.2 2.2 0 1 0 4.4 0a2.2 2.2 0 1 0 -4.4 0M317.50 414.30a2.2 2.2 0 1 0 4.4 0a2.2 2.2 0 1 0 -4.4 0M189.50 467.80a2.2 2.2 0 1 0 4.4 0a2.2 2.2 0 1 0 -4.4 0" fill="#7d0a84"/><path d="M78.80 501.75L81.55 504.50L78.80 507.25L76.05 504.50Z" fill="#f28c1e" stroke="#f28c1e" stroke-width="0.9" stroke-linejoin="round"/><path d="M84.20 536.00H91.80L88.00 542.00ZM142.70 515.10H150.30L146.50 521.10ZM195.70 489.60H203.30L199.50 495.60ZM209.10 507.40H216.70L212.90 513.40ZM213.20 469.40H220.80L217.00 475.40ZM240.50 488.10H248.10L244.30 494.10ZM241.20 455.10H248.80L245.00 461.10ZM260.30 465.80H267.90L264.10 471.80ZM262.00 459.20H269.60L265.80 465.20ZM271.70 439.20H279.30L275.50 445.20ZM283.40 446.90H291.00L287.20 452.90ZM277.90 462.50H285.50L281.70 468.50ZM281.60 468.50H289.20L285.40 474.50ZM299.50 430.80H307.10L303.30 436.80ZM302.90 427.50H310.50L306.70 433.50ZM298.70 445.00H306.30L302.50 451.00ZM303.70 454.20H311.30L307.50 460.20ZM305.40 456.70H313.00L309.20 462.70ZM314.50 436.70H322.10L318.30 442.70ZM332.00 436.70H339.60L335.80 442.70ZM347.90 427.50H355.50L351.70 433.50ZM342.00 447.50H349.60L345.80 453.50ZM347.90 454.20H355.50L351.70 460.20ZM359.40 469.50H367.00L363.20 475.50ZM383.70 460.80H391.30L387.50 466.80ZM391.20 457.50H398.80L395.00 463.50ZM392.60 481.50H400.20L396.40 487.50ZM383.00 496.70H390.60L386.80 502.70Z" fill="#6e0a7a" stroke="#6e0a7a" stroke-width="0.4" stroke-linejoin="round"/></g>
<path d="M88.00 319.40L88.00 310.90M88.00 2.00L88.00 10.50M111.11 319.40L111.11 310.90M111.11 2.00L111.11 10.50M134.21 319.40L134.21 310.90M134.21 2.00L134.21 10.50M157.32 319.40L157.32 302.40M157.32 2.00L157.32 19.00M180.43 319.40L180.43 310.90M180.43 2.00L180.43 10.50M203.53 319.40L203.53 310.90M203.53 2.00L203.53 10.50M226.63 319.40L226.63 310.90M226.63 2.00L226.63 10.50M249.74 319.40L249.74 302.40M249.74 2.00L249.74 19.00M272.85 319.40L272.85 310.90M272.85 2.00L272.85 10.50M295.95 319.40L295.95 310.90M295.95 2.00L295.95 10.50M319.06 319.40L319.06 310.90M319.06 2.00L319.06 10.50M342.16 319.40L342.16 302.40M342.16 2.00L342.16 19.00M365.26 319.40L365.26 310.90M365.26 2.00L365.26 10.50M388.37 319.40L388.37 310.90M388.37 2.00L388.37 10.50M411.48 319.40L411.48 310.90M411.48 2.00L411.48 10.50M434.58 319.40L434.58 302.40M434.58 2.00L434.58 19.00M457.69 319.40L457.69 310.90M457.69 2.00L457.69 10.50M480.79 319.40L480.79 310.90M480.79 2.00L480.79 10.50M503.89 319.40L503.89 310.90M503.89 2.00L503.89 10.50M527.00 319.40L527.00 302.40M527.00 2.00L527.00 19.00M550.11 319.40L550.11 310.90M550.11 2.00L550.11 10.50M573.21 319.40L573.21 310.90M573.21 2.00L573.21 10.50M65.10 22.36L73.60 22.36M596.50 22.36L588.00 22.36M65.10 42.80L82.10 42.80M596.50 42.80L579.50 42.80M65.10 63.23L73.60 63.23M596.50 63.23L588.00 63.23M65.10 83.67L73.60 83.67M596.50 83.67L588.00 83.67M65.10 104.10L73.60 104.10M596.50 104.10L588.00 104.10M65.10 124.54L82.10 124.54M596.50 124.54L579.50 124.54M65.10 144.97L73.60 144.97M596.50 144.97L588.00 144.97M65.10 165.41L73.60 165.41M596.50 165.41L588.00 165.41M65.10 185.84L73.60 185.84M596.50 185.84L588.00 185.84M65.10 206.28L82.10 206.28M596.50 206.28L579.50 206.28M65.10 226.71L73.60 226.71M596.50 226.71L588.00 226.71M65.10 247.15L73.60 247.15M596.50 247.15L588.00 247.15M65.10 267.58L73.60 267.58M596.50 267.58L588.00 267.58M65.10 288.02L82.10 288.02M596.50 288.02L579.50 288.02M65.10 308.45L73.60 308.45M596.50 308.45L588.00 308.45M84.75 541.80L84.75 533.30M84.75 382.80L84.75 391.30M104.30 541.80L104.30 524.80M104.30 382.80L104.30 399.80M123.85 541.80L123.85 533.30M123.85 382.80L123.85 391.30M143.40 541.80L143.40 533.30M143.40 382.80L143.40 391.30M162.95 541.80L162.95 533.30M162.95 382.80L162.95 391.30M182.50 541.80L182.50 533.30M182.50 382.80L182.50 391.30M202.05 541.80L202.05 524.80M202.05 382.80L202.05 399.80M221.60 541.80L221.60 533.30M221.60 382.80L221.60 391.30M241.15 541.80L241.15 533.30M241.15 382.80L241.15 391.30M260.70 541.80L260.70 533.30M260.70 382.80L260.70 391.30M280.25 541.80L280.25 533.30M280.25 382.80L280.25 391.30M299.80 541.80L299.80 524.80M299.80 382.80L299.80 399.80M319.35 541.80L319.35 533.30M319.35 382.80L319.35 391.30M338.90 541.80L338.90 533.30M338.90 382.80L338.90 391.30M358.45 541.80L358.45 533.30M358.45 382.80L358.45 391.30M378.00 541.80L378.00 533.30M378.00 382.80L378.00 391.30M397.55 541.80L397.55 524.80M397.55 382.80L397.55 399.80M417.10 541.80L417.10 533.30M417.10 382.80L417.10 391.30M436.65 541.80L436.65 533.30M436.65 382.80L436.65 391.30M456.20 541.80L456.20 533.30M456.20 382.80L456.20 391.30M475.75 541.80L475.75 533.30M475.75 382.80L475.75 391.30M65.20 398.70L73.70 398.70M495.30 398.70L486.80 398.70M65.20 414.60L82.20 414.60M495.30 414.60L478.30 414.60M65.20 430.50L73.70 430.50M495.30 430.50L486.80 430.50M65.20 446.40L82.20 446.40M495.30 446.40L478.30 446.40M65.20 462.30L73.70 462.30M495.30 462.30L486.80 462.30M65.20 478.20L82.20 478.20M495.30 478.20L478.30 478.20M65.20 494.10L73.70 494.10M495.30 494.10L486.80 494.10M65.20 510.00L82.20 510.00M495.30 510.00L478.30 510.00M65.20 525.90L73.70 525.90M495.30 525.90L486.80 525.90M495.30 436.80L511.30 436.80M495.30 481.10L511.30 481.10M495.30 525.40L511.30 525.40" stroke="#000" stroke-width="1.6" fill="none"/><rect x="65.1" y="2.0" width="531.4" height="317.4" fill="none" stroke="#000" stroke-width="1.7"/><rect x="65.2" y="382.8" width="430.1" height="158.99999999999994" fill="none" stroke="#000" stroke-width="1.7"/>
<rect x="211.2" y="33.8" width="125.4" height="230.8" fill="#fff" stroke="#000" stroke-width="1.6"/><circle cx="216.6" cy="48.2" r="1.6" fill="#000"/><circle cx="224.7" cy="48.2" r="1.6" fill="#000"/><circle cx="232.7" cy="48.2" r="1.6" fill="#000"/><text x="239.2" y="55.5">CARA</text><circle cx="216.6" cy="70.2" r="1.6" fill="#e8141b"/><circle cx="224.7" cy="70.2" r="1.6" fill="#e8141b"/><circle cx="232.7" cy="70.2" r="1.6" fill="#e8141b"/><text x="239.2" y="77.5">IAC</text><circle cx="216.6" cy="92.2" r="1.6" fill="#006400"/><circle cx="224.7" cy="92.2" r="1.6" fill="#006400"/><circle cx="232.7" cy="92.2" r="1.6" fill="#006400"/><text x="239.2" y="99.5">Trappist</text><circle cx="216.6" cy="118.2" r="1.6" fill="#7d0c84"/><circle cx="224.7" cy="118.2" r="1.6" fill="#7d0c84"/><circle cx="232.7" cy="118.2" r="1.6" fill="#7d0c84"/><text x="239.2" y="125.5">Bauer</text><circle cx="216.6" cy="140.2" r="1.6" fill="#f08a1c"/><circle cx="224.7" cy="140.2" r="1.6" fill="#f08a1c"/><circle cx="232.7" cy="140.2" r="1.6" fill="#f08a1c"/><text x="239.2" y="147.5">Meech</text><line x1="217.3" y1="162.2" x2="232.7" y2="162.2" stroke="#0000ff" stroke-width="1.5"/><text x="239.2" y="169.5">H2O+Nuc</text><line x1="217.3" y1="184.2" x2="232.7" y2="184.2" stroke="#0000ff" stroke-width="3.2"/><text x="239.2" y="191.5">Nucleus</text><line x1="217.3" y1="206.2" x2="232.7" y2="206.2" stroke="#e8141b" stroke-width="1.5"/><text x="239.2" y="213.5">CO2</text><line x1="217.3" y1="228.2" x2="232.7" y2="228.2" stroke="#008000" stroke-width="1.5"/><text x="239.2" y="235.5">CO</text><line x1="217.3" y1="250.2" x2="232.7" y2="250.2" stroke="#8b1a1a" stroke-width="2.2"/><text x="239.2" y="257.5">Total</text>
<text x="55.60" y="50.00" text-anchor="end" >12</text><text x="55.60" y="131.74" text-anchor="end" >14</text><text x="55.60" y="213.48" text-anchor="end" >16</text><text x="55.60" y="295.22" text-anchor="end" >18</text><text x="160.12" y="340.20" text-anchor="middle" >−<tspan dx="1.3">800</tspan></text><text x="252.54" y="340.20" text-anchor="middle" >−<tspan dx="1.3">600</tspan></text><text x="344.96" y="340.20" text-anchor="middle" >−<tspan dx="1.3">400</tspan></text><text x="437.38" y="340.20" text-anchor="middle" >−<tspan dx="1.3">200</tspan></text><text x="527.00" y="340.20" text-anchor="middle" >0</text><text x="330.00" y="360.50" text-anchor="middle" >Time from perihelion (days)</text><text x="18.20" y="160.30" text-anchor="middle" transform="rotate(-90 18.2 160.3)">R(1,1,0) magnitude</text><text x="55.60" y="390.00" text-anchor="end" >11</text><text x="55.60" y="421.80" text-anchor="end" >12</text><text x="55.60" y="453.60" text-anchor="end" >13</text><text x="55.60" y="485.40" text-anchor="end" >14</text><text x="55.60" y="517.20" text-anchor="end" >15</text><text x="55.60" y="549.00" text-anchor="end" >16</text><text x="107.10" y="562.20" text-anchor="middle" >−<tspan dx="1.3">100</tspan></text><text x="204.85" y="562.20" text-anchor="middle" >−<tspan dx="1.3">50</tspan></text><text x="299.80" y="562.20" text-anchor="middle" >0</text><text x="397.55" y="562.20" text-anchor="middle" >50</text><text x="495.30" y="562.20" text-anchor="middle" >100</text><text x="280.00" y="582.60" text-anchor="middle" >Time from perihelion (days)</text><text x="18.20" y="462.10" text-anchor="middle" transform="rotate(-90 18.2 462.1)">R(1,1,0) magnitude</text><text x="523.20" y="444.00" text-anchor="start" >28.0</text><text x="523.20" y="489.30" text-anchor="start" >27.5</text><text x="523.20" y="532.60" text-anchor="start" >27.0</text><text transform="translate(587.4 480.5) rotate(-90)"><tspan x="-0.9" y="0">Q</tspan><tspan x="15.0" y="4.8" font-size="12">H</tspan><tspan x="24.2" y="6.2" font-size="5.5">2</tspan><tspan x="27.3" y="4.8" font-size="12">O</tspan></text>
</svg>
</body></html>
